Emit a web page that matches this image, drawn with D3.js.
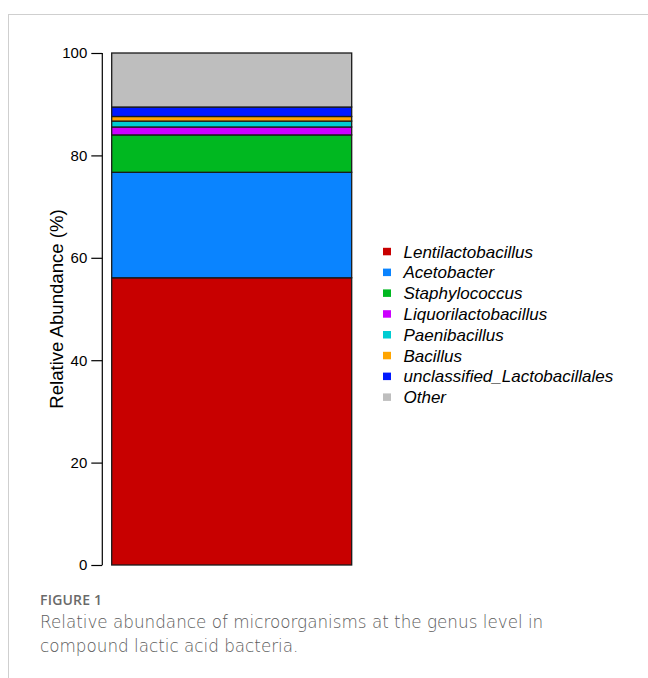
<!DOCTYPE html>
<html>
<head>
<meta charset="utf-8">
<script src="https://cdn.jsdelivr.net/npm/d3@7"></script>
<style>
  html, body { margin: 0; padding: 0; background: #fff; }
  svg { display: block; }
</style>
</head>
<body>
<svg id="fig" width="648" height="678"></svg>
<script>
// Genus-level composition of the compound lactic acid bacteria sample (%)
const genera = [
  "Lentilactobacillus", "Acetobacter", "Staphylococcus", "Liquorilactobacillus",
  "Paenibacillus", "Bacillus", "unclassified_Lactobacillales", "Other"
];
const abundance = [56.1, 20.6, 7.3, 1.55, 1.15, 0.9, 1.85, 10.55];
const palette = ["#C80000", "#0A84FF", "#00B820", "#CC00FF", "#00CCD2", "#FFA500", "#0019FF", "#BEBEBE"];
const yTicks = [0, 20, 40, 60, 80, 100];
const sampleName = ["sample"];

const svg = d3.select("#fig");

// page frame
svg.append("line").attr("x1", 8).attr("x2", 648).attr("y1", 14.5).attr("y2", 14.5)
  .attr("stroke", "#cfcfcf").attr("stroke-width", 1);
svg.append("line").attr("x1", 8.5).attr("x2", 8.5).attr("y1", 14).attr("y2", 678)
  .attr("stroke", "#cfcfcf").attr("stroke-width", 1);

const y = d3.scaleLinear().domain([0, 100]).range([565, 53]);
const x = d3.scaleBand().domain(sampleName).range([111.7, 351.7]).padding(0);

// stacked segments
const rows = [Object.fromEntries(genera.map((g, i) => [g, abundance[i]]))];
const stacked = d3.stack().keys(genera)(rows);

svg.append("g").selectAll("rect").data(stacked).join("rect")
  .attr("x", x("sample"))
  .attr("width", x.bandwidth())
  .attr("y", d => y(d[0][1]))
  .attr("height", d => y(d[0][0]) - y(d[0][1]))
  .attr("fill", (d, i) => palette[i])
  .attr("stroke", "#1a1a1a")
  .attr("stroke-width", 1.3);

// y axis
const axis = svg.append("g").attr("transform", "translate(102.3,0)")
  .call(d3.axisLeft(y).tickValues(yTicks).tickSize(11).tickPadding(4));
axis.select(".domain").attr("d", `M-0,${y(100)}V${y(0)}`).attr("stroke", "#000").attr("stroke-width", 1.2);
axis.selectAll(".tick line").attr("stroke", "#000").attr("stroke-width", 1.2);
axis.selectAll(".tick text").attr("font-family", "Liberation Sans, Arial, sans-serif")
  .attr("font-size", 15).attr("fill", "#000");

svg.append("text")
  .attr("transform", `translate(62.5,${(y(0) + y(100)) / 2}) rotate(-90)`)
  .attr("text-anchor", "middle")
  .attr("font-family", "Liberation Sans, Arial, sans-serif")
  .attr("font-size", 18.6)
  .text("Relative Abundance (%)");

// legend
const legend = svg.append("g").attr("transform", "translate(383,251.5)");
const item = legend.selectAll("g").data(genera).join("g")
  .attr("transform", (d, i) => `translate(0,${i * 20.8})`);
item.append("rect").attr("x", 0).attr("y", -3.7).attr("width", 8).attr("height", 7.5)
  .attr("fill", (d, i) => palette[i]);
item.append("text").attr("x", 20.5).attr("y", 6)
  .attr("font-family", "Liberation Sans, Arial, sans-serif")
  .attr("font-style", "italic")
  .attr("font-size", 17)
  .text(d => d);

// caption
svg.append("text").attr("x", 40).attr("y", 605.3)
  .attr("font-family", "'Open Sans', Lato, sans-serif")
  .attr("font-size", 14).attr("font-weight", 600).attr("fill", "#6a6a6a")
  .attr("letter-spacing", 0.2)
  .text("FIGURE 1");
const caption = ["Relative abundance of microorganisms at the genus level in",
                 "compound lactic acid bacteria."];
svg.append("g").selectAll("text").data(caption).join("text")
  .attr("x", 40).attr("y", (d, i) => 628 + i * 24)
  .attr("font-family", "'DejaVu Sans', 'Open Sans', sans-serif")
  .attr("font-size", 16.8).attr("font-weight", 200).attr("fill", "#5c5c5c")
  .text(d => d);
</script>
</body>
</html>
